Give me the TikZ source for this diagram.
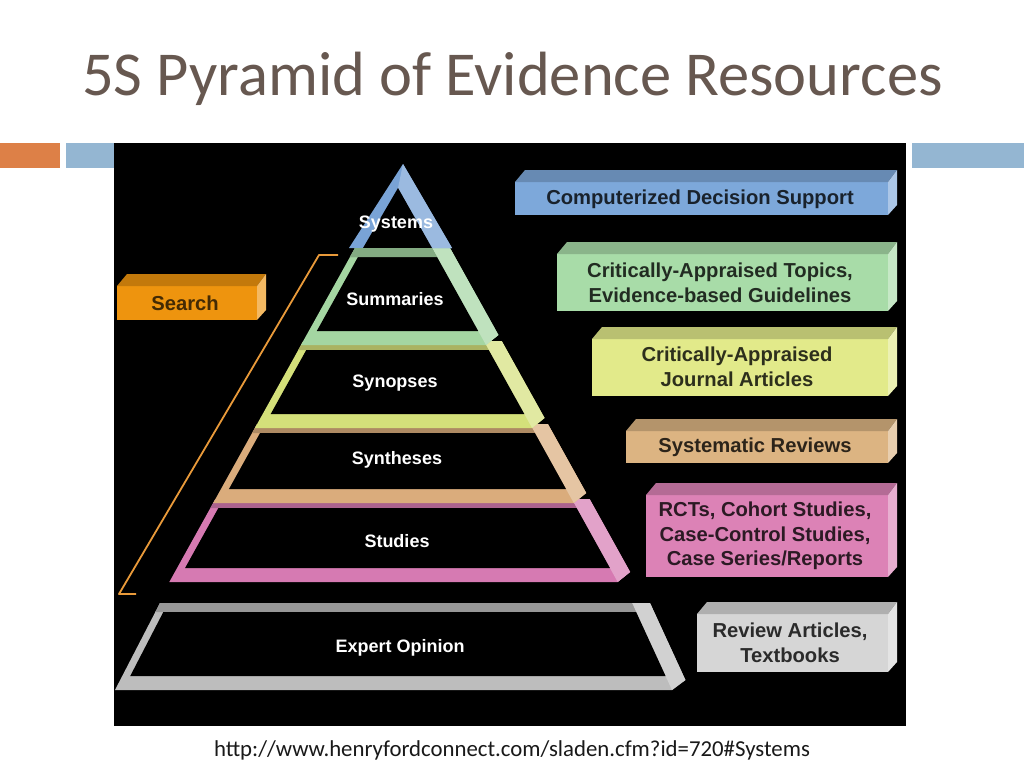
\documentclass[tikz,border=0pt]{standalone}
\usepackage{fontspec}
\setmainfont{Liberation Sans}
\newfontfamily\calfont{Carlito}
\definecolor{titlec}{HTML}{675850}
\definecolor{barorange}{HTML}{DD8047}
\definecolor{barblue}{HTML}{94B6D2}
\definecolor{sysblue}{HTML}{79A3D6}
\definecolor{summgreen}{HTML}{A4D6A2}
\definecolor{synyellow}{HTML}{D4E07A}
\definecolor{synthtan}{HTML}{DAAC7C}
\definecolor{studpink}{HTML}{D67AB2}
\definecolor{expgrey}{HTML}{BDBDBD}
\definecolor{searchorange}{HTML}{EE940E}
\definecolor{bracketc}{HTML}{E99A3A}
\definecolor{bblue}{HTML}{7DA8DA}
\definecolor{bgreen}{HTML}{A8DCA8}
\definecolor{byellow}{HTML}{E2EA8A}
\definecolor{btan}{HTML}{DCB482}
\definecolor{bpink}{HTML}{DC82B6}
\definecolor{bgrey}{HTML}{D6D6D6}
\tikzset{
  pyrlabel/.style={text=white, font=\bfseries\fontsize{18}{21}\selectfont, inner sep=0pt},
  boxtext/.style={font=\bfseries\fontsize{20.2}{24.5}\selectfont, align=center, inner sep=0pt},
}
% #1 yt, #2 yb, #3 xlt, #4 xlb, #5 xrt, #6 xrb, #7 colour
\newcommand{\pyrslab}[7]{%
  \pgfmathsetmacro\sA{(#4-#3)/(#2-#1)}%
  \pgfmathsetmacro\sB{(#6-#5)/(#2-#1)}%
  \fill[#7] (#3,#1) -- (#5,#1) -- ({#6-10*\sB},{#2-10}) -- ({#6-18},#2) -- (#4,#2) -- cycle;
  \fill[#7!70!white] ({#5-18},#1) -- (#5,#1) -- ({#6-10*\sB},{#2-10}) -- ({#6-18},#2) -- cycle;
  \fill[#7!80!black] (#3,#1) -- ({#5-18},#1) -- ({#5-18+9*\sB},{#1+9}) -- ({#3+9*\sA},{#1+9}) -- cycle;
  \fill[black] ({#3+9*\sA+8},{#1+9}) -- ({#5-18+9*\sB},{#1+9}) -- ({#6-18-14*\sB},{#2-14}) -- ({#4-14*\sA+8},{#2-14}) -- cycle;
}
% 3D bar: #1 x1, #2 y1, #3 x2, #4 y2, #5 colour
\newcommand{\bevelbox}[5]{%
  \fill[#5] (#1,{#2+12}) rectangle ({#3-9},#4);
  \fill[#5!82!black] (#1,{#2+12}) -- ({#1+10},#2) -- (#3,#2) -- ({#3-9},{#2+12}) -- cycle;
  \fill[#5!65!white] ({#3-9},{#2+12}) -- (#3,#2) -- (#3,{#4-10}) -- ({#3-9},#4) -- cycle;
}
\begin{document}
\begin{tikzpicture}[x=1pt,y=-1pt]
\useasboundingbox (0,0) rectangle (1024,768);
\fill[white] (0,0) rectangle (1024,768);
% title
\node[text=titlec, font=\calfont\fontsize{62.5}{66}\selectfont, anchor=base west, inner sep=0pt] (title) at (82,95) {5S Pyramid of Evidence Resources};
% bars
\fill[barorange] (0,143) rectangle (60,168);
\fill[barblue] (66,143) rectangle (114,168);
\fill[barblue] (912,143) rectangle (1024,168);
% panel
\fill[black] (114,143) rectangle (906,726);

% pyramid, bottom up
\pyrslab{603}{690}{160}{115}{650}{690}{expgrey}
\node[pyrlabel] (expert) at (400,648) {Expert Opinion};
\pyrslab{499}{582}{215.4}{169.3}{589.6}{635.7}{studpink}
\node[pyrlabel] (studies) at (397,541) {Studies};
\pyrslab{424}{503}{257.1}{213.2}{547.9}{591.8}{synthtan}
\node[pyrlabel] (syntheses) at (397,460) {Syntheses};
\pyrslab{341}{428}{303.3}{254.9}{501.7}{550.1}{synyellow}
\node[pyrlabel] (synopses) at (395,383) {Synopses};
\pyrslab{248}{345}{355}{301}{450}{504}{summgreen}
\node[pyrlabel] (summaries) at (395,299) {Summaries};
% systems triangle
\fill[sysblue] (403,164) -- (452,248) -- (349,248) -- cycle;
\fill[sysblue!75!white] (403,164) -- (452,248) -- (432,248) -- (398,188) -- cycle;
\fill[black] (398,188) -- (432,248) -- (363,248) -- cycle;
\fill[summgreen!80!black] (355,248) -- (432,248) -- ({432+9*0.556},257) -- ({355-9*0.556},257) -- cycle;
\node[pyrlabel] (systems) at (396,224) {Systems};

% search bracket
\coordinate (br1) at (338,255);
\coordinate (br2) at (319,255);
\coordinate (br3) at (119,594);
\coordinate (br4) at (136,594);
\draw[bracketc, line width=1.8pt, line join=round] (br1) -- (br2) -- (br3) -- (br4);
\bevelbox{117}{274}{266}{320}{searchorange}
\node[boxtext, text=black!60!searchorange!70!black] (search) at (185,303) {Search};

% right boxes
\bevelbox{515}{170}{897}{215}{bblue}
\node[boxtext, text=bblue!20!black] (cds) at (700,199) {Computerized Decision Support};
\bevelbox{557}{242}{897}{311}{bgreen}
\node[boxtext, text=bgreen!20!black] (cat) at (720,283) {Critically-Appraised Topics,\\Evidence-based Guidelines};
\bevelbox{592}{327}{897}{396}{byellow}
\node[boxtext, text=byellow!20!black] (caja) at (737,367) {Critically-Appraised\\Journal Articles};
\bevelbox{626}{419}{897}{463}{btan}
\node[boxtext, text=btan!20!black] (sr) at (755,447) {Systematic Reviews};
\bevelbox{646}{483}{897}{577}{bpink}
\node[boxtext, text=bpink!20!black] (rct) at (765,536) {RCTs, Cohort Studies,\\Case-Control Studies,\\Case Series/Reports};
\bevelbox{697}{602}{897}{672}{bgrey}
\node[boxtext, text=bgrey!20!black] (rat) at (790,643) {Review Articles,\\Textbooks};

% url
\node[font=\calfont\fontsize{22.8}{26}\selectfont, text=black!90, inner sep=0pt] (url) at (512,750) {http://www.henryfordconnect.com/sladen.cfm?id=720\#Systems};
\end{tikzpicture}
\end{document}
